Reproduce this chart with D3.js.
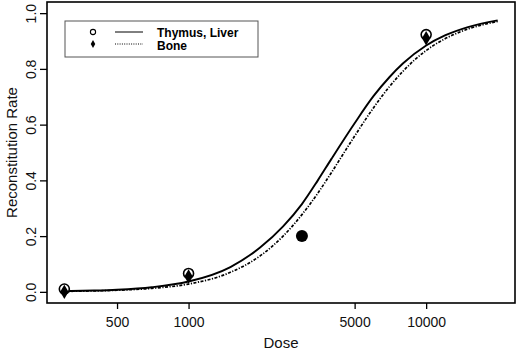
<!DOCTYPE html>
<html><head><meta charset="utf-8">
<script src="https://cdn.jsdelivr.net/npm/d3@7"></script>
<style>
html,body{margin:0;padding:0;background:#fff;}
text{font-family:"Liberation Sans",Arial,Helvetica,sans-serif;}
</style></head>
<body><svg id="c" width="520" height="353"></svg>
<script>
// ---- data ----
const pointDoses = [300, 1000, 3000, 10000];
const thymusLiverPts = [0.01, 0.066, null, 0.923];
const bonePts = [0.0, 0.055, null, 0.91];
const combinedDose = [3000];
const combinedPts = [0.2];

const curveDoses = [300, 400, 500, 700, 1000, 1500, 2000, 2500, 3000, 3500, 4000, 5000, 6000, 7000, 8000, 10000, 12000, 15000, 20000];
const thymusLiverCurve = [0.0024, 0.0046, 0.0077, 0.0166, 0.037, 0.089, 0.159, 0.235, 0.315, 0.400, 0.478, 0.605, 0.702, 0.770, 0.820, 0.884, 0.920, 0.950, 0.974];
const boneCurve = [0.0017, 0.0034, 0.0057, 0.0125, 0.028, 0.070, 0.129, 0.200, 0.277, 0.354, 0.429, 0.559, 0.660, 0.736, 0.792, 0.866, 0.908, 0.943, 0.970];

const xTicks = [500, 1000, 5000, 10000];
const xTickLabels = ["500", "1000", "5000", "10000"];
const yTicks = [0, 0.2, 0.4, 0.6, 0.8, 1.0];
const yTickLabels = ["0.0", "0.2", "0.4", "0.6", "0.8", "1.0"];
const legendLabels = ["Thymus, Liver", "Bone"];

// ---- layout ----
const L = 47, R = 515, T = 2, B = 303;
const svg = d3.select("#c");
const lo = Math.log10(300), hi = Math.log10(20000), pad = 0.04 * (hi - lo);
const x = d3.scaleLog().domain([Math.pow(10, lo - pad), Math.pow(10, hi + pad)]).range([L, R]);
const y = d3.scaleLinear().domain([-0.04, 1.04]).range([B, T]);

// box
svg.append("rect").attr("x", L).attr("y", T).attr("width", R - L).attr("height", B - T)
  .attr("fill", "none").attr("stroke", "#000").attr("stroke-width", 1.6);

// x axis
const xAxis = d3.axisBottom(x).tickValues(xTicks).tickFormat((d, i) => xTickLabels[i]).tickSize(6).tickPadding(5);
const gx = svg.append("g").attr("transform", `translate(0,${B})`).call(xAxis);
gx.select(".domain").remove();
gx.selectAll("line").attr("stroke", "#000").attr("stroke-width", 1.3);
gx.selectAll("text").attr("font-size", 14).attr("fill", "#111").attr("dy", "0.95em");

// y axis
const yAxis = d3.axisLeft(y).tickValues(yTicks).tickFormat((d, i) => yTickLabels[i]).tickSize(7);
const gy = svg.append("g").attr("transform", `translate(${L},0)`).call(yAxis);
gy.select(".domain").remove();
gy.selectAll("line").attr("stroke", "#000").attr("stroke-width", 1.3);
gy.selectAll("text").attr("font-size", 14).attr("fill", "#111")
  .attr("transform", "rotate(-90)").attr("text-anchor", "middle")
  .attr("x", 0).attr("y", -11).attr("dy", "0");

// axis titles
svg.append("text").attr("x", (L + R) / 2).attr("y", 348).attr("text-anchor", "middle")
  .attr("font-size", 15).attr("fill", "#111").text("Dose");
svg.append("text").attr("transform", `translate(17,${(T + B) / 2}) rotate(-90)`)
  .attr("text-anchor", "middle").attr("font-size", 15).attr("fill", "#111").text("Reconstitution Rate");

// curves
const line = d3.line().x(d => x(d[0])).y(d => y(d[1])).curve(d3.curveMonotoneX);
svg.append("path").datum(curveDoses.map((d, i) => [d, boneCurve[i]]))
  .attr("d", line).attr("fill", "none").attr("stroke", "#000").attr("stroke-width", 1.7)
  .attr("stroke-dasharray", "3,1.5,1.2,1.5");
svg.append("path").datum(curveDoses.map((d, i) => [d, thymusLiverCurve[i]]))
  .attr("d", line).attr("fill", "none").attr("stroke", "#000").attr("stroke-width", 1.9);

// points
const diamond = d3.symbol().type(d3.symbolDiamond).size(60);
pointDoses.forEach((d, i) => {
  if (thymusLiverPts[i] != null) {
    svg.append("circle").attr("cx", x(d)).attr("cy", y(thymusLiverPts[i])).attr("r", 5)
      .attr("fill", "#fff").attr("stroke", "#000").attr("stroke-width", 1.6);
  }
  if (bonePts[i] != null) {
    svg.append("path").attr("d", diamond).attr("fill", "#000")
      .attr("transform", `translate(${x(d)},${y(bonePts[i])})`);
  }
});
combinedDose.forEach((d, i) => {
  svg.append("circle").attr("cx", x(d)).attr("cy", y(combinedPts[i])).attr("r", 6)
    .attr("fill", "#000");
});

// legend
const lg = svg.append("g");
lg.append("rect").attr("x", 65).attr("y", 21).attr("width", 193).attr("height", 36)
  .attr("fill", "#fff").attr("stroke", "#555").attr("stroke-width", 1);
lg.append("circle").attr("cx", 93).attr("cy", 32).attr("r", 2.6).attr("fill", "#fff")
  .attr("stroke", "#000").attr("stroke-width", 1.1);
lg.append("path").attr("d", d3.symbol().type(d3.symbolDiamond).size(18))
  .attr("transform", "translate(93,44)").attr("fill", "#000");
lg.append("line").attr("x1", 115).attr("x2", 143).attr("y1", 32).attr("y2", 32)
  .attr("stroke", "#000").attr("stroke-width", 1);
lg.append("line").attr("x1", 115).attr("x2", 143).attr("y1", 44).attr("y2", 44)
  .attr("stroke", "#000").attr("stroke-width", 1).attr("stroke-dasharray", "1,1.3");
lg.append("text").attr("x", 157).attr("y", 37).attr("font-size", 12).attr("font-weight", "bold").text(legendLabels[0]);
lg.append("text").attr("x", 157).attr("y", 50).attr("font-size", 12).attr("font-weight", "bold").text(legendLabels[1]);
</script></body></html>
